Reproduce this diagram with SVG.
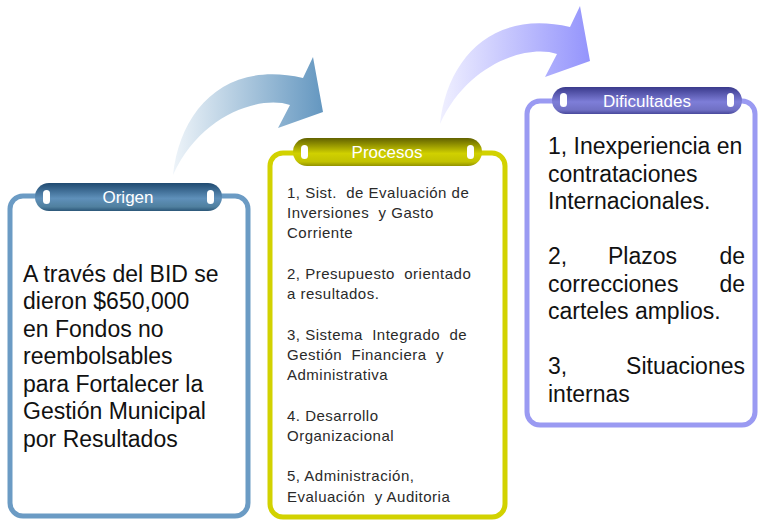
<svg xmlns="http://www.w3.org/2000/svg" width="759" height="520" viewBox="0 0 759 520">
<style>
  .box { fill: #ffffff; stroke-width: 5; }
  .pilltxt { font-family: "Liberation Sans", Arial, sans-serif; font-size: 17px; fill: #ffffff; text-anchor: middle; }
  .dot { fill: #ffffff; }
  .big { font-family: "Liberation Sans", Arial, sans-serif; font-size: 23px; fill: #111111; }
  .small { font-family: "Liberation Sans", Arial, sans-serif; font-size: 15px; letter-spacing: 0.5px; fill: #2a2a2a; white-space: pre; }
</style>
<defs>
  <linearGradient id="gOrig" x1="0" y1="0" x2="0" y2="1">
    <stop offset="0" stop-color="#1f4a70"/>
    <stop offset="0.55" stop-color="#5f90ba"/>
    <stop offset="0.85" stop-color="#50809f"/>
    <stop offset="1" stop-color="#2b5678"/>
  </linearGradient>
  <linearGradient id="gProc" x1="0" y1="0" x2="0" y2="1">
    <stop offset="0" stop-color="#626200"/>
    <stop offset="0.55" stop-color="#d0d000"/>
    <stop offset="0.85" stop-color="#c2c200"/>
    <stop offset="1" stop-color="#929200"/>
  </linearGradient>
  <linearGradient id="gDif" x1="0" y1="0" x2="0" y2="1">
    <stop offset="0" stop-color="#3a3a8c"/>
    <stop offset="0.55" stop-color="#7e7ed8"/>
    <stop offset="0.85" stop-color="#7070c4"/>
    <stop offset="1" stop-color="#48489c"/>
  </linearGradient>
  <linearGradient id="gArr1" gradientUnits="userSpaceOnUse" x1="173" y1="0" x2="323" y2="0">
    <stop offset="0" stop-color="#eef4f9"/>
    <stop offset="1" stop-color="#6497c0"/>
  </linearGradient>
  <linearGradient id="gArr2" gradientUnits="userSpaceOnUse" x1="173" y1="0" x2="323" y2="0">
    <stop offset="0" stop-color="#f0f0ff"/>
    <stop offset="1" stop-color="#9494fc"/>
  </linearGradient>
  <path id="arrowShape" d="M173,175 C180,110 225,60 303,78 L313,57 L323,112 L278,128 L290,105 C260,95 200,115 173,175 Z"/>
</defs>

<g id="connectors">
  <use href="#arrowShape" fill="url(#gArr1)"/>
  <use href="#arrowShape" fill="url(#gArr2)" transform="translate(267,-51)"/>
</g>

<g id="origen">
  <rect class="box" x="10" y="196" width="238" height="320" rx="13" stroke="#6b9bc4"/>
  <rect x="35" y="183" width="187" height="28" rx="14" fill="url(#gOrig)"/>
  <rect class="dot" x="43" y="190" width="7" height="14" rx="3.5"/>
  <rect class="dot" x="207" y="190" width="7" height="14" rx="3.5"/>
  <text class="pilltxt" x="128" y="203">Origen</text>
  <text class="big" x="23">
    <tspan x="23" y="281.5">A través del BID se</tspan>
    <tspan x="23" y="309">dieron $650,000</tspan>
    <tspan x="23" y="336.5">en Fondos no</tspan>
    <tspan x="23" y="364">reembolsables</tspan>
    <tspan x="23" y="391.5">para Fortalecer la</tspan>
    <tspan x="23" y="419">Gestión Municipal</tspan>
    <tspan x="23" y="446.5">por Resultados</tspan>
  </text>
</g>

<g id="procesos">
  <rect class="box" x="270" y="153" width="235" height="364" rx="13" stroke="#d2d200"/>
  <rect x="293" y="138" width="189" height="28" rx="14" fill="url(#gProc)"/>
  <rect class="dot" x="301" y="145" width="7" height="14" rx="3.5"/>
  <rect class="dot" x="467" y="145" width="7" height="14" rx="3.5"/>
  <text class="pilltxt" x="387" y="158">Procesos</text>
  <text class="small" x="287" y="197.5">1, Sist.  de Evaluación de</text>
  <text class="small" x="287" y="218">Inversiones  y Gasto</text>
  <text class="small" x="287" y="238">Corriente</text>
  <text class="small" x="287" y="278.5">2, Presupuesto  orientado</text>
  <text class="small" x="287" y="299">a resultados.</text>
  <text class="small" x="287" y="339.5">3, Sistema  Integrado  de</text>
  <text class="small" x="287" y="360">Gestión  Financiera  y</text>
  <text class="small" x="287" y="380">Administrativa</text>
  <text class="small" x="287" y="420.5">4. Desarrollo</text>
  <text class="small" x="287" y="441">Organizacional</text>
  <text class="small" x="287" y="481">5, Administración,</text>
  <text class="small" x="287" y="501.5">Evaluación  y Auditoria</text>
</g>

<g id="dificultades">
  <rect class="box" x="527" y="101" width="228" height="324" rx="13" stroke="#9a9af2"/>
  <rect x="552" y="87" width="190" height="27" rx="13.5" fill="url(#gDif)"/>
  <rect class="dot" x="560" y="93" width="7" height="14" rx="3.5"/>
  <rect class="dot" x="727" y="93" width="7" height="14" rx="3.5"/>
  <text class="pilltxt" x="647" y="107">Dificultades</text>
  <text class="big" x="548" y="154">1, Inexperiencia en</text>
  <text class="big" x="548" y="181.5">contrataciones</text>
  <text class="big" x="548" y="209">Internacionales.</text>
  <text class="big" x="548" y="264">2,</text>
  <text class="big" x="608" y="264">Plazos</text>
  <text class="big" x="745" y="264" text-anchor="end">de</text>
  <text class="big" x="548" y="291.5">correcciones</text>
  <text class="big" x="745" y="291.5" text-anchor="end">de</text>
  <text class="big" x="548" y="319">carteles amplios.</text>
  <text class="big" x="548" y="374">3,</text>
  <text class="big" x="745" y="374" text-anchor="end">Situaciones</text>
  <text class="big" x="548" y="401.5">internas</text>
</g>
</svg>
